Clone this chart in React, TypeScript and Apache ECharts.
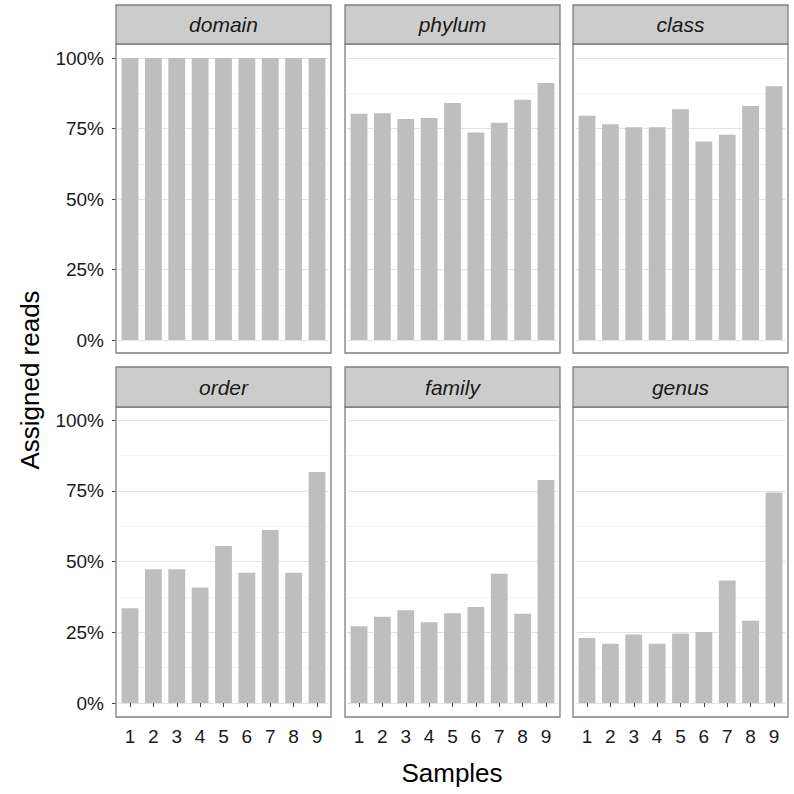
import React, { useEffect, useRef } from "react";
import * as echarts from "echarts";

const samples = ["1", "2", "3", "4", "5", "6", "7", "8", "9"];
const ranks = ["domain", "phylum", "class", "order", "family", "genus"];
const domainVals = [1, 1, 1, 1, 1, 1, 1, 1, 1];
const phylumVals = [0.802, 0.804, 0.784, 0.787, 0.84, 0.736, 0.77, 0.852, 0.911];
const classVals = [0.795, 0.765, 0.754, 0.754, 0.818, 0.704, 0.728, 0.83, 0.9];
const orderVals = [0.335, 0.473, 0.473, 0.408, 0.555, 0.46, 0.611, 0.46, 0.816];
const familyVals = [0.271, 0.305, 0.328, 0.285, 0.317, 0.339, 0.457, 0.315, 0.788];
const genusVals = [0.23, 0.209, 0.242, 0.209, 0.246, 0.251, 0.433, 0.291, 0.744];

const FONT = "Liberation Sans, Arial, Helvetica, sans-serif";

export default function App() {
  const ref = useRef<HTMLDivElement>(null);
  useEffect(() => {
    if (!ref.current) return;
    const chart = echarts.init(ref.current, null, { renderer: "svg" });
    const allVals = [domainVals, phylumVals, classVals, orderVals, familyVals, genusVals];
    const colLeft = [116, 345, 573];
    const panelW = 215;
    const unit = panelW / 9.2;
    const panelTop = [44, 407];
    const panelBottom = [353, 717];
    const yFull = [58, 420];
    const yZero = [340, 703];
    const stripTop = [5, 367];

    const grids: any[] = [];
    const xAxes: any[] = [];
    const yAxes: any[] = [];
    const series: any[] = [];
    const graphics: any[] = [];

    ranks.forEach((rank, i) => {
      const r = Math.floor(i / 3);
      const c = i % 3;
      grids.push({
        left: colLeft[c] + 0.1 * unit,
        width: 9 * unit,
        top: yFull[r],
        height: yZero[r] - yFull[r],
        containLabel: false,
      });
      xAxes.push({
        type: "category",
        gridIndex: i,
        data: samples,
        boundaryGap: true,
        offset: panelBottom[r] - yZero[r],
        axisLine: { show: false },
        axisTick: {
          show: r === 1,
          alignWithLabel: true,
          length: 4,
          lineStyle: { color: "#444", width: 1 },
        },
        axisLabel: {
          show: r === 1,
          fontFamily: FONT,
          fontSize: 19,
          color: "#1a1a1a",
          margin: 10,
        },
        splitLine: { show: false },
      });
      yAxes.push({
        type: "value",
        gridIndex: i,
        min: 0,
        max: 1,
        interval: 0.25,
        offset: 0.1 * unit,
        axisLine: { show: false },
        axisTick: {
          show: c === 0,
          length: 4,
          lineStyle: { color: "#444", width: 1 },
        },
        axisLabel: {
          show: c === 0,
          fontFamily: FONT,
          fontSize: 19,
          color: "#1a1a1a",
          margin: 12,
          formatter: (v: number) => Math.round(v * 100) + "%",
        },
        splitLine: { show: true, lineStyle: { color: "#e3e3e3", width: 1 } },
        minorTick: { show: false, splitNumber: 2 },
        minorSplitLine: { show: true, lineStyle: { color: "#f3f3f3", width: 1 } },
      });
      series.push({
        type: "bar",
        xAxisIndex: i,
        yAxisIndex: i,
        data: allVals[i],
        barWidth: "72%",
        itemStyle: { color: "#bebebe" },
        silent: true,
      });
      graphics.push({
        type: "rect",
        shape: {
          x: colLeft[c],
          y: panelTop[r],
          width: panelW,
          height: panelBottom[r] - panelTop[r],
        },
        style: { fill: "none", stroke: "#7f7f7f", lineWidth: 1.3 },
        z: 100,
      });
      graphics.push({
        type: "rect",
        shape: {
          x: colLeft[c],
          y: stripTop[r],
          width: panelW,
          height: panelTop[r] - stripTop[r],
        },
        style: { fill: "#cccccc", stroke: "#7f7f7f", lineWidth: 1.3 },
        z: 100,
      });
      graphics.push({
        type: "text",
        x: colLeft[c] + panelW / 2,
        y: (stripTop[r] + panelTop[r]) / 2,
        style: {
          text: rank,
          fontFamily: FONT,
          fontStyle: "italic",
          fontSize: 21,
          fill: "#1a1a1a",
          align: "center",
          verticalAlign: "middle",
        },
        z: 101,
      });
    });

    graphics.push({
      type: "text",
      x: 452,
      y: 773,
      style: {
        text: "Samples",
        fontFamily: FONT,
        fontSize: 26,
        fill: "#000",
        align: "center",
        verticalAlign: "middle",
      },
    });
    graphics.push({
      type: "text",
      x: 30,
      y: 380,
      rotation: Math.PI / 2,
      style: {
        text: "Assigned reads",
        fontFamily: FONT,
        fontSize: 26,
        fill: "#000",
        align: "center",
        verticalAlign: "middle",
      },
    });

    chart.setOption({
      animation: false,
      backgroundColor: "#ffffff",
      grid: grids,
      xAxis: xAxes,
      yAxis: yAxes,
      series,
      graphic: graphics,
    });
    return () => chart.dispose();
  }, []);
  return (
    <div
      ref={ref}
      style={{ position: "absolute", left: 0, top: 0, width: 794, height: 794 }}
    />
  );
}
